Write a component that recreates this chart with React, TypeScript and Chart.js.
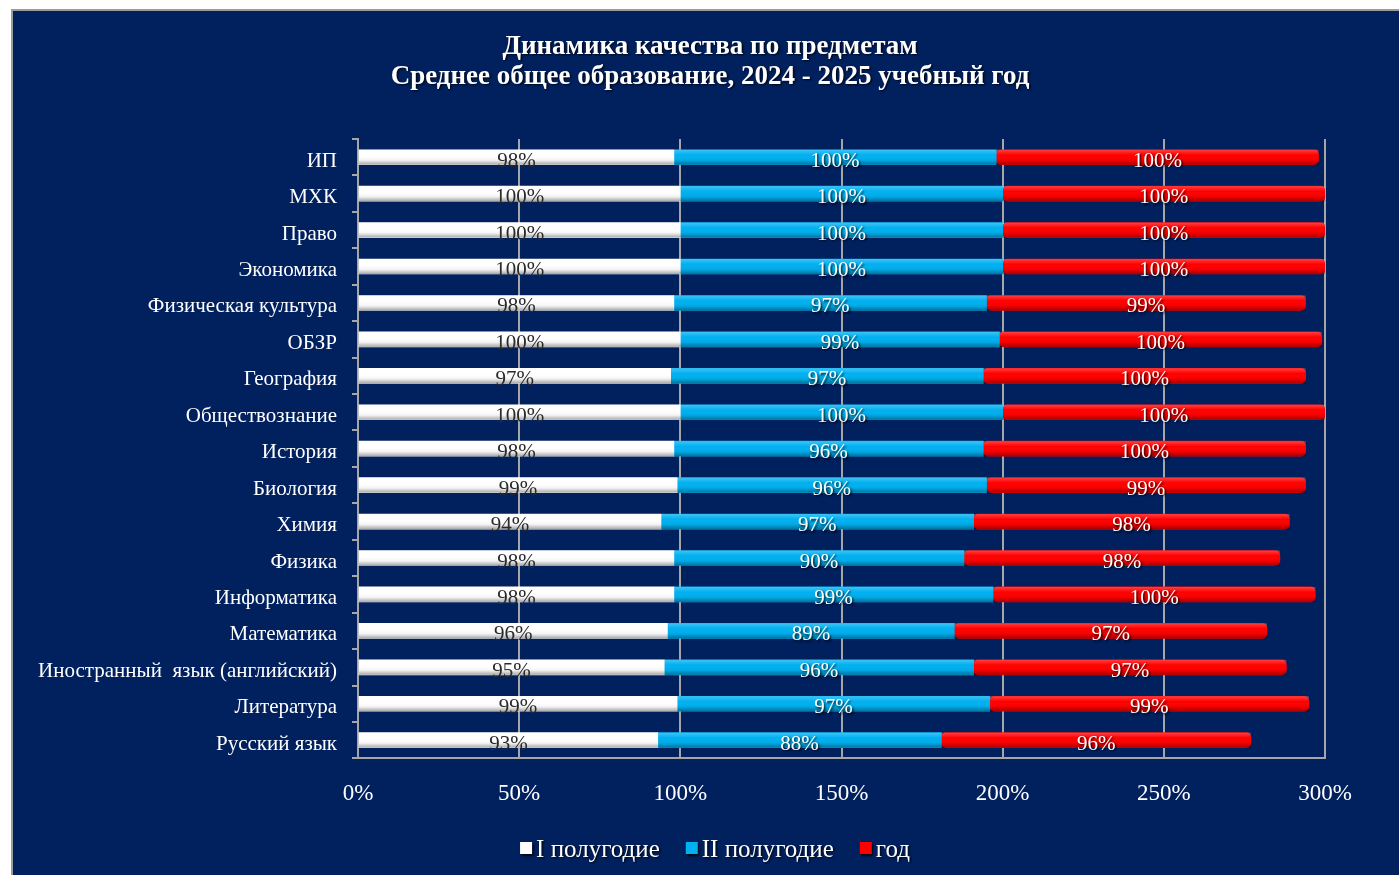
import { useEffect, useRef } from 'react'
import { Chart, registerables } from 'chart.js'

Chart.register(...registerables)

const SUBJECTS = [
  'ИП',
  'МХК',
  'Право',
  'Экономика',
  'Физическая культура',
  'ОБЗР',
  'География',
  'Обществознание',
  'История',
  'Биология',
  'Химия',
  'Физика',
  'Информатика',
  'Математика',
  'Иностранный  язык (английский)',
  'Литература',
  'Русский язык',
]

const HALF_1 = [98, 100, 100, 100, 98, 100, 97, 100, 98, 99, 94, 98, 98, 96, 95, 99, 93]
const HALF_2 = [100, 100, 100, 100, 97, 99, 97, 100, 96, 96, 97, 90, 99, 89, 96, 97, 88]
const YEAR = [100, 100, 100, 100, 99, 100, 100, 100, 100, 99, 98, 98, 100, 97, 97, 99, 96]

const SERIES_NAMES = ['I полугодие', 'II полугодие', 'год']
const SERIES_COLORS = ['#ffffff', '#00b0f0', '#ff0000']
const LABEL_COLORS = ['#2a2a2a', '#ffffff', '#ffffff']

const TITLE = ['Динамика качества по предметам', 'Среднее общее образование, 2024 - 2025 учебный год']

const SERIF = '"Liberation Serif", "Times New Roman", serif'
const NAVY = '#00205e'
const GRID = '#a6a6a6'

function shadow(ctx: CanvasRenderingContext2D) {
  ctx.shadowColor = 'rgba(0,0,0,0.75)'
  ctx.shadowOffsetX = 1.5
  ctx.shadowOffsetY = 1.5
  ctx.shadowBlur = 2
}

// navy panel with a grey frame, cut off at the right and bottom like the slide
const panelPlugin = {
  id: 'panel',
  beforeDraw(chart: Chart) {
    const { ctx, width, height } = chart
    ctx.save()
    ctx.fillStyle = '#ffffff'
    ctx.fillRect(0, 0, width, height)
    ctx.fillStyle = NAVY
    ctx.fillRect(12, 10, width, height)
    ctx.strokeStyle = '#9c9c9c'
    ctx.lineWidth = 2
    ctx.beginPath()
    ctx.moveTo(12, height)
    ctx.lineTo(12, 10)
    ctx.lineTo(width, 10)
    ctx.stroke()
    ctx.restore()
  },
  afterDraw(chart: Chart) {
    const { ctx } = chart
    // title, centred on the panel
    ctx.save()
    shadow(ctx)
    ctx.fillStyle = '#ffffff'
    ctx.font = `bold 27px ${SERIF}`
    ctx.textAlign = 'center'
    ctx.textBaseline = 'middle'
    TITLE.forEach((line, i) => ctx.fillText(line, 710, 47 + i * 30))
    ctx.restore()

    // legend
    ctx.save()
    ctx.font = `25px ${SERIF}`
    ctx.textBaseline = 'middle'
    const box = 12
    const gap = 4
    const spacing = 26
    const widths = SERIES_NAMES.map((n) => box + gap + ctx.measureText(n).width)
    const total = widths.reduce((a, b) => a + b, 0) + spacing * (widths.length - 1)
    let x = 715 - total / 2
    const y = 849
    SERIES_NAMES.forEach((n, i) => {
      ctx.save()
      shadow(ctx)
      ctx.fillStyle = SERIES_COLORS[i]
      ctx.fillRect(x, y - box / 2 - 1, box, box)
      ctx.fillStyle = '#ffffff'
      ctx.fillText(n, x + box + gap, y + 1)
      ctx.restore()
      x += widths[i] + spacing
    })
    ctx.restore()
  },
}

// cylinder shading + value labels on every segment
const barLabelPlugin = {
  id: 'barLabels',
  afterDatasetsDraw(chart: Chart) {
    const { ctx } = chart
    chart.data.datasets.forEach((ds, di) => {
      const meta = chart.getDatasetMeta(di)
      meta.data.forEach((el: any) => {
        const left = Math.min(el.x, el.base)
        const w = Math.abs(el.x - el.base)
        const top = el.y - el.height / 2
        const g = ctx.createLinearGradient(0, top, 0, top + el.height)
        g.addColorStop(0, 'rgba(255,255,255,0.25)')
        g.addColorStop(0.35, 'rgba(255,255,255,0)')
        g.addColorStop(0.7, 'rgba(0,0,0,0.05)')
        g.addColorStop(1, 'rgba(0,0,0,0.35)')
        ctx.save()
        ctx.fillStyle = g
        ctx.fillRect(left, top, w, el.height)
        ctx.restore()
      })
    })
    chart.data.datasets.forEach((ds, di) => {
      const meta = chart.getDatasetMeta(di)
      meta.data.forEach((el: any, i: number) => {
        const v = ds.data[i] as number
        ctx.save()
        ctx.font = `21px ${SERIF}`
        ctx.textAlign = 'center'
        ctx.textBaseline = 'middle'
        if (di > 0) shadow(ctx)
        ctx.fillStyle = LABEL_COLORS[di]
        ctx.fillText(`${v}%`, (el.x + el.base) / 2, el.y + 4)
        ctx.restore()
      })
    })
  },
}

function QualityChart() {
  const canvasRef = useRef<HTMLCanvasElement>(null)
  const chartRef = useRef<Chart | null>(null)

  useEffect(() => {
    const el = canvasRef.current
    if (!el) return
    try { chartRef.current?.destroy() } catch { /* noop */ }
    chartRef.current = new Chart(el, {
      type: 'bar',
      data: {
        labels: SUBJECTS,
        datasets: [HALF_1, HALF_2, YEAR].map((data, i) => ({
          label: SERIES_NAMES[i],
          data,
          backgroundColor: SERIES_COLORS[i],
          borderWidth: 0,
          borderRadius: 5,
          borderSkipped: false,
          barThickness: 15,
        })),
      },
      options: {
        indexAxis: 'y',
        responsive: false,
        animation: false,
        layout: { padding: { left: 20, right: 74, top: 139, bottom: 45 } },
        plugins: {
          title: { display: false },
          legend: { display: false },
          tooltip: { enabled: false },
        },
        scales: {
          x: {
            stacked: true,
            min: 0,
            max: 300,
            ticks: {
              stepSize: 50,
              color: '#ffffff',
              font: { family: SERIF, size: 23 },
              padding: 22,
              callback: (v) => `${v}%`,
            },
            grid: { color: GRID, lineWidth: 2, drawTicks: false },
            border: { color: GRID, width: 2 },
          },
          y: {
            stacked: true,
            afterFit: (scale) => { scale.width = 338 },
            ticks: {
              color: '#ffffff',
              font: { family: SERIF, size: 21 },
              padding: 15,
              labelOffset: 4,
            },
            grid: { color: GRID, lineWidth: 2, drawOnChartArea: false, drawTicks: true, tickLength: 6 },
            border: { color: GRID, width: 2 },
          },
        },
      },
      plugins: [panelPlugin, barLabelPlugin],
    })
    return () => { try { chartRef.current?.destroy() } catch { /* noop */ } }
  }, [])

  return <canvas ref={canvasRef} width={1399} height={875} style={{ display: 'block' }} />
}

export default function App() {
  return (
    <div style={{ position: 'fixed', left: 0, top: 0, width: 1399, height: 875, background: '#ffffff' }}>
      <QualityChart />
    </div>
  )
}
